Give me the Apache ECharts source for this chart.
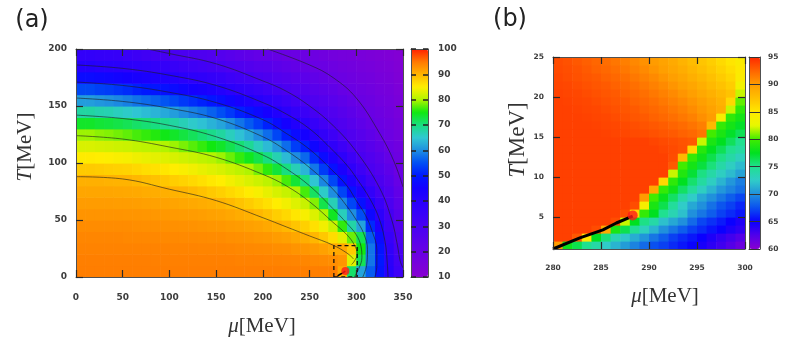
<!DOCTYPE html>
<html>
<head>
<meta charset="utf-8">
<script src="https://cdn.jsdelivr.net/npm/echarts@6.0.0/dist/echarts.min.js"></script>
<style>
  html, body { margin: 0; padding: 0; background: #fff; }
  #chart { width: 789px; height: 338px; }
</style>
</head>
<body>
<div id="chart"></div>
<script>
// ---- panel (a): mu 0..350, T 0..200, cell centres ----
const muA = [5, 15, 25, 35, 45, 55, 65, 75, 85, 95, 105, 115, 125, 135, 145, 155, 165, 175,
  185, 195, 205, 215, 225, 235, 245, 255, 265, 275, 285, 295, 305, 315, 325, 335, 345];
const tA = [5, 15, 25, 35, 45, 55, 65, 75, 85, 95, 105, 115, 125, 135, 145, 155, 165, 175, 185, 195];
// one column per mu, values from T=5 upwards
const valA = [
  [94.5,94.4,94.1,93.8,93.3,92.7,92.0,91.2,90.3,88.1,85.3,82.5,79.4,73.9,68.0,61.3,54.3,47.3,40.7,36.9],
  [94.5,94.4,94.1,93.8,93.3,92.7,92.0,91.2,90.3,88.1,85.3,82.5,79.4,73.9,68.0,61.3,54.3,47.3,40.7,36.9],
  [94.5,94.4,94.1,93.8,93.3,92.7,92.0,91.2,90.3,87.9,85.1,82.3,78.9,73.3,67.3,60.7,53.6,46.7,40.0,36.4],
  [94.5,94.4,94.1,93.8,93.3,92.7,92.0,91.2,90.2,87.7,84.9,82.1,78.6,73.0,67.0,60.3,53.2,46.3,39.8,36.0],
  [94.5,94.4,94.1,93.8,93.3,92.7,91.9,91.1,90.1,87.5,84.6,81.8,78.1,72.5,66.3,59.6,52.5,45.6,39.3,35.5],
  [94.5,94.4,94.1,93.7,93.3,92.6,91.9,91.0,90.1,87.3,84.4,81.6,77.5,71.9,65.6,58.9,51.8,45.0,38.9,34.6],
  [94.5,94.4,94.1,93.7,93.2,92.6,91.8,90.9,89.7,86.9,84.0,81.1,76.7,71.1,64.7,57.9,50.7,44.0,38.2,33.6],
  [94.5,94.4,94.1,93.7,93.1,92.5,91.7,90.7,89.2,86.4,83.6,80.8,76.1,70.6,64.0,57.1,50.0,43.3,37.5,32.5],
  [94.5,94.3,94.1,93.7,93.1,92.4,91.6,90.6,88.9,86.1,83.3,80.6,75.6,70.0,63.3,56.4,49.3,42.7,36.8,31.6],
  [94.5,94.3,94.1,93.6,93.0,92.3,91.5,90.4,88.4,85.6,82.9,80.1,74.7,69.0,62.3,55.4,48.3,41.7,36.1,30.8],
  [94.5,94.3,94.0,93.6,93.0,92.2,91.3,90.2,87.8,85.1,82.4,79.4,73.9,68.0,61.3,54.3,47.3,40.7,35.3,30.0],
  [94.5,94.3,94.0,93.5,92.9,92.1,91.1,90.0,87.3,84.6,81.9,78.3,72.8,66.7,60.0,52.9,46.0,39.5,34.2,29.4],
  [94.5,94.3,94.0,93.5,92.8,92.0,90.9,89.5,86.8,84.1,81.4,77.2,71.7,65.5,58.9,51.8,44.8,38.4,33.2,28.7],
  [94.5,94.3,93.9,93.4,92.7,91.8,90.7,88.9,86.2,83.5,80.8,76.1,70.6,64.4,57.9,50.7,44.0,37.8,32.2,28.1],
  [94.5,94.3,93.9,93.3,92.5,91.6,90.4,88.2,85.5,82.9,80.3,75.0,69.4,63.1,56.4,49.3,42.7,36.7,31.1,27.2],
  [94.5,94.3,93.9,93.3,92.4,91.4,90.1,87.6,85.0,82.4,79.4,73.9,68.1,61.9,54.8,47.7,41.3,35.6,30.0,26.3],
  [94.5,94.3,93.8,93.1,92.2,91.1,89.5,86.8,84.2,81.6,77.8,72.2,66.3,60.0,52.9,46.0,39.4,33.9,28.8,25.0],
  [94.5,94.2,93.7,93.0,92.0,90.7,88.7,86.1,83.4,80.8,76.1,70.6,64.4,57.9,50.7,44.0,37.8,32.4,27.8,23.9],
  [94.5,94.2,93.6,92.8,91.7,90.3,87.9,85.3,82.6,80.0,74.4,68.8,62.5,55.7,48.7,42.3,36.5,31.1,26.8,22.8],
  [94.5,94.2,93.5,92.6,91.4,89.7,87.1,84.5,81.8,78.2,72.4,66.3,60.0,53.3,46.8,40.3,34.9,29.6,25.6,21.6],
  [94.5,94.1,93.4,92.4,91.0,88.9,86.2,83.5,80.8,75.9,70.0,63.8,57.3,50.7,44.4,38.4,33.2,28.6,25.2,21.7],
  [94.5,94.1,93.2,92.0,90.4,87.8,85.1,82.4,79.4,73.1,67.0,60.9,54.1,47.6,41.8,36.3,31.1,27.3,24.0,20.7],
  [94.4,94.0,93.1,91.7,89.7,86.9,84.2,81.4,76.7,70.0,63.8,57.3,50.7,44.7,39.0,34.0,29.4,26.1,22.9,19.7],
  [94.4,93.9,92.7,91.1,88.6,85.7,82.9,80.0,73.3,66.7,60.0,53.3,47.2,41.7,36.7,31.9,28.1,25.0,21.9,19.5],
  [94.4,93.8,92.5,90.5,87.6,84.5,81.5,76.7,70.0,63.3,56.9,50.6,44.7,39.0,34.3,29.7,26.8,23.8,20.9,19.0],
  [94.4,93.6,92.1,89.7,86.2,82.8,78.6,71.4,64.7,58.1,51.9,46.1,40.6,35.7,31.0,27.8,25.1,22.4,19.8,18.3],
  [94.4,93.4,91.6,88.3,84.2,80.0,72.3,65.6,59.4,53.1,47.2,41.7,36.8,32.3,28.8,26.3,23.8,21.3,19.5,17.5],
  [94.4,93.2,90.9,86.5,81.5,74.2,66.7,60.0,54.1,48.3,42.8,37.8,33.5,29.5,27.1,24.8,22.4,20.0,18.3,16.6],
  [91.0,92.5,91.0,83.1,76.0,66.4,59.4,53.9,48.4,43.2,38.3,33.9,29.8,27.5,25.2,23.0,20.7,19.0,17.5,16.0],
  [71.0,83.0,88.0,77.8,67.7,60.0,54.1,48.3,42.8,37.9,33.8,29.8,27.6,25.4,23.3,21.1,19.5,18.2,16.9,15.5],
  [62.0,72.0,75.0,72.0,61.7,54.7,48.3,42.8,37.8,33.5,29.6,27.4,25.3,23.2,21.1,19.6,18.4,17.2,16.0,14.8],
  [56.0,58.0,58.0,56.0,51.5,46.5,41.5,37.0,32.6,29.2,27.1,25.1,23.1,21.0,19.8,18.7,17.6,16.5,15.4,14.2],
  [49.0,50.0,49.0,47.0,42.8,38.8,35.0,31.2,28.6,26.6,24.6,22.6,20.6,19.3,18.3,17.3,16.3,15.3,14.3,13.3],
  [40.0,39.0,37.5,35.7,33.3,31.1,29.0,27.1,25.2,23.3,21.3,19.8,18.9,18.0,17.2,16.3,15.5,14.6,13.8,12.9],
  [33.0,31.5,30.0,28.4,26.8,25.2,23.7,22.1,20.5,19.5,18.6,17.8,17.0,16.2,15.4,14.6,13.9,13.2,12.5,11.9]
];

// contour lines of panel (a), [mu, T]
const contour90 = [[0,88],[50,86],[100,77],[150,67],[200,52],[225,44],[250,36],[275,28],[290,21],[297,16]];
const contour80 = [[0,124],[50,121],[100,114],[150,105],[200,90],[225,80],[250,66],[275,48],[290,37],[298,28],[301,20],[298,14],[295,11]];
const contour70 = [[0,142],[50,139],[100,133],[150,123],[200,107],[225,95],[250,80],[275,60],[290,47],[300,37],[305,27],[306,17],[303,8],[298,0]];
const contour60 = [[0,157],[50,154],[100,148],[150,139],[200,123],[225,111],[250,96],[275,77],[290,62],[300,50],[308,38],[312,24],[311,10],[307,0]];
const contour50 = [[0,171],[50,168],[100,162],[150,153],[200,138],[225,126],[250,112],[275,93],[290,80],[300,67],[310,54],[317,40],[322,24],[322,10],[320,0]];
const contour40 = [[0,186],[50,183],[100,177],[150,168],[200,153],[225,143],[250,130],[275,111],[290,98],[300,87],[315,68],[325,50],[331,30],[333,14],[334,0]];
const contour30 = [[76,200],[100,196],[150,187],[200,172],[225,163],[250,150],[275,133],[300,110],[325,78],[338,50],[344,28],[347,14],[350,8]];
const contour20 = [[205,200],[250,186],[275,175],[300,157],[325,126],[340,102],[350,79]];

const zoomBox = [[276,0],[276,27.5],[301,27.5],[301,0],[276,0]];
const transLine = [[280,1],[282.8,2.4],[285.2,3.4],[286.6,4.25],[288.3,5.1]];
const critPt = [288.3, 5.2];

// ---- panel (b): mu 280..300, T 1..25, cell centres ----
const muB = [280.5,281.5,282.5,283.5,284.5,285.5,286.5,287.5,288.5,289.5,
  290.5,291.5,292.5,293.5,294.5,295.5,296.5,297.5,298.5,299.5];
const tB = [1.5,2.5,3.5,4.5,5.5,6.5,7.5,8.5,9.5,10.5,11.5,12.5,
  13.5,14.5,15.5,16.5,17.5,18.5,19.5,20.5,21.5,22.5,23.5,24.5];
// one row per T
const valB = [
  [90,78,76.5,75,74,72.5,71.5,70.5,69.5,68.5,67.5,67,66.3,65.7,65.1,64.5,63.8,63.1,62.3,61.4],
  [94,94,93,85,77.5,75.5,73.5,72.3,71.2,70.2,69,68,67,66.3,65.7,65,64.3,63.6,63,62.3],
  [94,94,94,94,93.5,89,78.5,76.5,74.8,73,71.5,70,69,68,67,66.3,65.6,65,64.3,63.7],
  [94,94,94,94,94,94,93.5,82,77.5,75.2,74,72,71,70,68.5,67.2,66.5,65.8,65,64.3],
  [94,94,94,94,94,94,94,93.5,86,79.5,77.5,75,73.5,72,70,69,68,67,66.3,65.7],
  [94,94,94,94,94,94,94,94,93.5,84,78.5,76.5,74.5,72.5,71,70,68.8,67.7,67,66.2],
  [94,94,94,94,94,94,94,94,94,90,80,77.8,76,74,72.5,71,70,69,68,67.2],
  [94,94,94,94,94,94,94,94,94,94,89,79.5,78,76,74.5,72.8,71.5,70.3,69.5,68.7],
  [94,94,94,94,94,94,94,94,94,94,94,86,79.3,77.5,75.8,74.3,72.8,71.5,70.3,69.3],
  [94,94,94,94,94,94,94,94,94,94,94,94,82,78.8,77,75.3,74,72.8,71.8,70.8],
  [94,94,94,94,94,94,94,94,94,94,94,94,93,80,78.3,76.8,75.5,74,72.8,71.8],
  [94,94,94,94,94,94,94,94,94,94,94,94,93.5,88,79.5,78,76.5,75.2,74,73],
  [94,94,94,94,94,94,94,94,94,94,94,93.8,93.6,93.3,86,79,77.5,76.3,75,74.2],
  [94,94,94,94,94,94,94,94,94,94,93.8,93.6,93.4,93.2,93,82,78.5,77.5,76.2,75],
  [94,94,94,94,94,93.9,93.8,93.7,93.6,93.5,93.3,93.1,92.9,92.6,92.3,91.8,80,78.5,77.3,76.3],
  [94,94,94,94,93.9,93.8,93.7,93.6,93.4,93.2,93,92.8,92.5,92.2,91.8,91.3,88,79.5,78.3,77.3],
  [94,94,94,93.9,93.8,93.7,93.5,93.3,93.1,92.9,92.6,92.3,92,91.6,91.2,90.6,90,84,79.3,78.3],
  [94,94,93.9,93.8,93.7,93.5,93.3,93.1,92.9,92.6,92.3,92,91.6,91.2,90.7,90.2,89.6,88.8,82,79.3],
  [94,93.9,93.8,93.7,93.5,93.3,93.1,92.9,92.6,92.3,92,91.6,91.2,90.8,90.3,89.8,89.2,88.5,86,80.5],
  [93.9,93.8,93.7,93.5,93.3,93.1,92.9,92.6,92.3,92,91.6,91.2,90.8,90.3,89.8,89.2,88.6,88,87.3,82],
  [93.8,93.7,93.5,93.3,93.1,92.9,92.6,92.3,92,91.6,91.2,90.8,90.3,89.8,89.3,88.7,88,87.4,86.7,83.5],
  [93.7,93.5,93.3,93.1,92.9,92.6,92.3,92,91.6,91.2,90.8,90.3,89.8,89.3,88.7,88.1,87.5,86.8,86.1,84.5],
  [93.6,93.4,93.2,92.9,92.6,92.3,92,91.6,91.2,90.8,90.3,89.8,89.3,88.8,88.2,87.6,87,86.3,85.6,84.8],
  [93.5,93.3,93,92.7,92.4,92.1,91.7,91.3,90.9,90.5,90,89.5,89,88.4,87.8,87.2,86.6,85.9,85.2,84.5]
];
const tickB = [5, 10, 15, 20, 25];

// colour ramps (10..100 step 5 and 60..95 step 2.5)
const cmapA = ['#8800d0','#7800da','#6800e4','#5800ec','#4800f2','#3800f8','#2800fc','#1400ff','#0018ff',
  '#0050f4','#1e8ee0','#30c8d2','#18de80','#10e810','#b0f400','#ffee00','#ffb400','#ff7800','#ff2000'];
const cmapB = ['#8800d0','#5000ea','#0a00ff','#0a50f0','#2090dc','#30ccc8','#20e090','#00e020',
  '#40ec00','#e8f800','#ffe800','#ffc000','#ff9c00','#ff6400','#ff2800'];

let cellsA = [];
for (let i = 0; i < muA.length; i++) {
  for (let j = 0; j < tA.length; j++) cellsA.push([muA[i], tA[j], valA[i][j]]);
}
let cellsB = [];
for (let j = 0; j < tB.length; j++) {
  for (let i = 0; i < muB.length; i++) cellsB.push([muB[i], tB[j], valB[j][i]]);
}

function cellRenderer(dx, dy) {
  return function (params, api) {
    const x = api.value(0), y = api.value(1);
    const p0 = api.coord([x - dx / 2, y + dy / 2]);
    const p1 = api.coord([x + dx / 2, y - dy / 2]);
    return {
      type: 'rect',
      shape: { x: p0[0], y: p0[1], width: p1[0] - p0[0] + 0.6, height: p1[1] - p0[1] + 0.6 },
      style: { fill: api.visual('color') }
    };
  };
}

const labelFont = { fontFamily: 'DejaVu Sans', fontWeight: 'bold', fontSize: 9, color: '#3c3c3c' };

function axis(gridIndex, position, min, max, interval, opt) {
  opt = opt || {};
  const tick = Object.assign({ show: true, inside: true, length: 7,
    lineStyle: { color: '#2a2a2a', width: 1.2 } }, opt.tick || {});
  const label = opt.label ? Object.assign({ show: true }, labelFont, opt.label) : { show: false };
  const ax = {
    gridIndex: gridIndex, position: position, type: 'value', min: min, max: max, z: 10,
    axisLine: { show: true, onZero: false, lineStyle: { color: '#505050', width: 1 } },
    axisTick: tick, axisLabel: label, splitLine: { show: false }
  };
  if (interval != null) ax.interval = interval;
  if (opt.hidden) { ax.axisTick = { show: false }; ax.axisLabel = { show: false }; }
  return ax;
}

const serif = 'Liberation Serif';
function titleText(x, y, sym, size, rot) {
  return {
    type: 'text', x: x, y: y, rotation: rot || 0,
    style: {
      text: '{i|' + sym + '}{n|[MeV]}',
      textAlign: 'center', textVerticalAlign: 'middle', align: 'center', verticalAlign: 'middle',
      rich: {
        i: { fontFamily: serif, fontStyle: 'italic', fontSize: size, fill: '#333' },
        n: { fontFamily: serif, fontSize: size, fill: '#333' }
      }
    }
  };
}

function contourSeries(data) {
  return {
    type: 'line', xAxisIndex: 0, yAxisIndex: 0, data: data, smooth: 0.4,
    showSymbol: false, silent: true, z: 3,
    lineStyle: { color: 'rgba(30,30,30,0.6)', width: 1 }
  };
}

const chart = echarts.init(document.getElementById('chart'), null, { renderer: 'canvas' });
chart.setOption({
  animation: false,
  backgroundColor: '#fff',
  grid: [
    { left: 76, top: 49, width: 327, height: 228 },
    { left: 553, top: 57, width: 192, height: 192 },
    { left: 411, top: 49, width: 17, height: 228 },
    { left: 749, top: 57, width: 11, height: 192 }
  ],
  xAxis: [
    axis(0, 'bottom', 0, 350, 50, { label: { margin: 16 } }),
    axis(0, 'top', 0, 350, 50),
    axis(1, 'bottom', 280, 300, 5, { label: { margin: 15, fontSize: 7.5 } }),
    axis(1, 'top', 280, 300, 5),
    axis(2, 'bottom', 0, 1, null, { hidden: true }),
    axis(2, 'top', 0, 1, null, { hidden: true }),
    axis(3, 'bottom', 0, 1, null, { hidden: true }),
    axis(3, 'top', 0, 1, null, { hidden: true })
  ],
  yAxis: [
    axis(0, 'left', 0, 200, 50, { label: { margin: 9 } }),
    axis(0, 'right', 0, 200, 50),
    axis(1, 'left', 1, 25, null, { tick: { customValues: tickB },
      label: { margin: 9, fontSize: 7.5, customValues: tickB } }),
    axis(1, 'right', 1, 25, null, { tick: { customValues: tickB } }),
    axis(2, 'right', 10, 100, 10, { tick: { length: 5, lineStyle: { color: '#222', width: 1.5 } },
      label: { margin: 10 } }),
    axis(2, 'left', 10, 100, 10, { tick: { length: 5, lineStyle: { color: '#222', width: 1.5 } } }),
    axis(3, 'right', 60, 95, 5, { tick: { length: 11, lineStyle: { color: '#333', width: 1 } },
      label: { margin: 8, fontSize: 7.5 } }),
    axis(3, 'left', 60, 95, 5, { hidden: true })
  ],
  visualMap: [
    { type: 'continuous', seriesIndex: 0, dimension: 2, min: 10, max: 100, calculable: false,
      orient: 'vertical', left: 411, top: 49, itemWidth: 17, itemHeight: 228, padding: 0,
      text: null, showLabel: false, inRange: { color: cmapA } },
    { type: 'continuous', seriesIndex: 1, dimension: 2, min: 60, max: 95, calculable: false,
      orient: 'vertical', left: 749, top: 57, itemWidth: 11, itemHeight: 192, padding: 0,
      text: null, showLabel: false, inRange: { color: cmapB } }
  ],
  series: [
    { type: 'custom', xAxisIndex: 0, yAxisIndex: 0, data: cellsA, clip: true, silent: true,
      renderItem: cellRenderer(muA[1] - muA[0], tA[1] - tA[0]) },
    { type: 'custom', xAxisIndex: 2, yAxisIndex: 2, data: cellsB, clip: true, silent: true,
      renderItem: cellRenderer(muB[1] - muB[0], tB[1] - tB[0]) },
    contourSeries(contour90), contourSeries(contour80), contourSeries(contour70), contourSeries(contour60),
    contourSeries(contour50), contourSeries(contour40), contourSeries(contour30), contourSeries(contour20),
    { type: 'line', xAxisIndex: 0, yAxisIndex: 0, data: zoomBox, showSymbol: false, z: 4,
      lineStyle: { color: '#111', width: 1.3, type: [4, 3] } },
    { type: 'line', xAxisIndex: 0, yAxisIndex: 0, data: transLine, showSymbol: false, z: 4,
      lineStyle: { color: '#000', width: 1.5 } },
    { type: 'scatter', xAxisIndex: 0, yAxisIndex: 0, data: [critPt], symbolSize: 8, z: 5,
      itemStyle: { color: '#ff1a1a' } },
    { type: 'line', xAxisIndex: 2, yAxisIndex: 2, data: transLine, showSymbol: false, z: 4,
      lineStyle: { color: '#000', width: 3 } },
    { type: 'scatter', xAxisIndex: 2, yAxisIndex: 2, data: [critPt], symbolSize: 10, z: 5,
      itemStyle: { color: '#ff1a1a' } }
  ],
  graphic: [
    { type: 'text', x: 32, y: 21, style: { text: '(a)', font: '24px "DejaVu Sans"', fill: '#222',
      textAlign: 'center', textVerticalAlign: 'middle', align: 'center', verticalAlign: 'middle' } },
    { type: 'text', x: 510, y: 20, style: { text: '(b)', font: '24px "DejaVu Sans"', fill: '#222',
      textAlign: 'center', textVerticalAlign: 'middle', align: 'center', verticalAlign: 'middle' } },
    titleText(262, 326, 'μ', 21, 0),
    titleText(25, 147, 'T', 21, Math.PI / 2),
    titleText(665, 296, 'μ', 21, 0),
    titleText(518, 140, 'T', 23, Math.PI / 2)
  ]
});
</script>
</body>
</html>
